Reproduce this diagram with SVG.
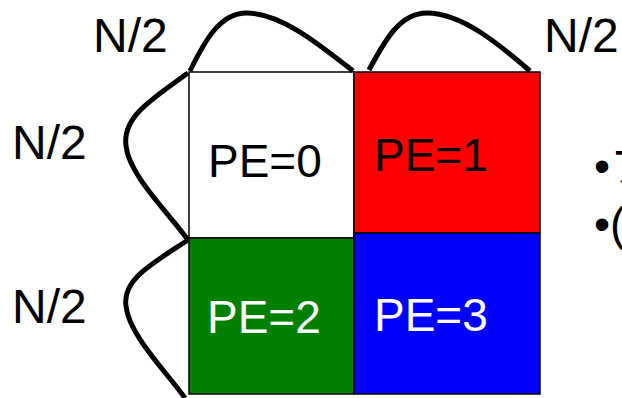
<svg xmlns="http://www.w3.org/2000/svg" width="622" height="398" viewBox="0 0 622 398">
<style>
.t{font-family:"Liberation Sans",Arial,"Noto Sans CJK JP",sans-serif;font-size:46px;fill:#000}
.n{font-size:48px}
.w{fill:#fff}
.box{stroke:#000;stroke-width:1.5}
.arc{fill:none;stroke:#000;stroke-width:5;stroke-linecap:butt}
</style>
<rect width="622" height="398" fill="#fff"/>
<g id="pe0"><rect class="box" x="189" y="72" width="165" height="166" fill="#fff"/><text class="t" x="208" y="177">PE=0</text></g>
<g id="pe1"><rect class="box" x="354" y="72" width="186" height="161" fill="#ff0000"/><text class="t" x="374" y="171">PE=1</text></g>
<g id="pe2"><rect class="box" x="189" y="238" width="165" height="156" fill="#008000"/><text class="t w" x="207" y="333">PE=2</text></g>
<g id="pe3"><rect class="box" x="354" y="233" width="186" height="161" fill="#0000ff"/><text class="t w" x="374" y="331">PE=3</text></g>
<g id="connectors">
<path class="arc" d="M190,71 C205,40 220,14 245,13 C280,12 320,45 353,71"/>
<path class="arc" d="M369,70 C385,40 400,13 427,13 C462,13 500,45 530,71"/>
<path class="arc" d="M188,73 C150,100 122,118 126,146 C129,175 168,212 188,240"/>
<path class="arc" d="M188,240 C150,265 122,280 126,306 C129,335 165,370 185,398"/>
</g>
<g id="labels">
<text class="t n" x="93" y="52">N/2</text>
<text class="t n" x="544" y="52">N/2</text>
<text class="t n" x="12" y="159">N/2</text>
<text class="t n" x="12" y="323">N/2</text>
<text class="t" x="594" y="182">•ブ</text>
<text class="t" x="594" y="240">•(</text>
</g>
</svg>
